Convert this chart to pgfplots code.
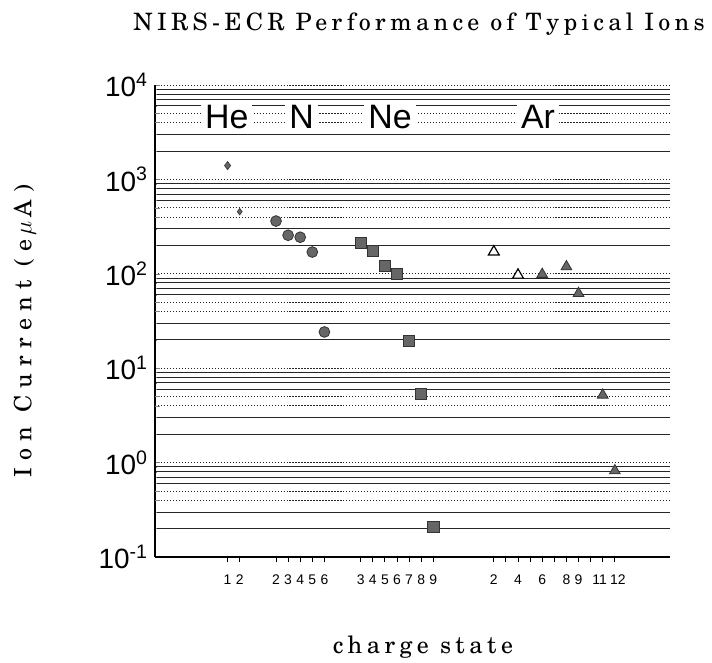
\documentclass[border=0pt]{standalone}
\usepackage{fontspec}
\setsansfont{Liberation Sans}
\newfontfamily\spacedA{TeX Gyre Schola}[LetterSpace=18]
\newfontfamily\spacedB{TeX Gyre Schola}[LetterSpace=30]
\newfontfamily\spacedC{TeX Gyre Schola}[LetterSpace=19]
\usepackage{pgfplots}
\pgfplotsset{compat=1.18}
\begin{document}
\begin{tikzpicture}
\useasboundingbox (-77.5bp,-53bp) rectangle (278.5bp,278.5bp);
\begin{axis}[
  at={(0,0)}, anchor=south west,
  scale only axis, width=257.5bp, height=236bp,
  ymode=log, ymin=0.1, ymax=10000,
  xmin=0, xmax=42.56,
  axis x line=bottom, axis y line=left,
  axis line style={-, line width=0.6pt, black},
  xtick={6,7,10,11,12,13,14,17,18,19,20,21,22,23,28,29,30,31,32,33,34,35,36,37,38},
  xticklabels={1,2,2,3,4,5,6,3,4,5,6,7,8,9,2,,4,,6,,8,9,,\kern-3bp 11,12\kern-3bp},
  xtick align=outside,
  x tick style={black, line width=0.5pt},
  major tick length=2.5bp, minor tick length=1bp,
  xticklabel style={font=\sffamily\fontsize{7}{7}\selectfont, yshift=-3bp},
  ytick={0.1,1,10,100,1000,10000},
  yticklabels={10\textsuperscript{-1},10\textsuperscript{0},10\textsuperscript{1},10\textsuperscript{2},10\textsuperscript{3},10\textsuperscript{4}},
  yticklabel style={font=\sffamily\fontsize{14}{14}\selectfont},
  minor ytick={0.2,0.3,0.6,0.7,0.8,0.9,2,3,6,7,8,9,20,30,60,70,80,90,200,300,600,700,800,900,2000,3000,6000,7000,8000,9000},
  ytick align=inside,
  ymajorgrids, yminorgrids,
  major grid style={black!85, line width=0.45pt, dash pattern=on 0.6pt off 0.9pt},
  minor grid style={black!85, line width=0.45pt},
  extra y ticks={0.4,0.5,4,5,40,50,400,500,4000,5000},
  extra y tick labels={},
  extra y tick style={grid=major},
  clip=false,
]
% He
\addplot[only marks, mark=diamond*, mark size=2bp, mark options={fill=black!60, draw=black!75}] coordinates {(6,1400)};
\addplot[only marks, mark=diamond*, mark size=1.6bp, mark options={fill=black!60, draw=black!75}] coordinates {(7,455)};
% N
\addplot[only marks, mark=*, mark size=2.7bp, mark options={fill=black!60, draw=black!80}] coordinates {(10,362)(11,256)(12,244)(13,170)(14,24.2)};
% Ne
\addplot[only marks, mark=square*, mark size=2.8bp, mark options={fill=black!60, draw=black!80}] coordinates {(17,214)(18,175)(19,121)(20,98.8)(21,19.4)(22,5.33)(23,0.209)};
% Ar open
\addplot[only marks, mark=triangle*, mark size=3.1bp, mark options={fill=white, draw=black, line width=0.6pt}] coordinates {(28,171)(30,97)};
% Ar filled
\addplot[only marks, mark=triangle*, mark size=3.1bp, mark options={fill=black!60, draw=black!80}] coordinates {(32,98.8)(34,119)(35,62)(37,5.2)(38,0.82)};
% element labels
\tikzset{elem/.style={fill=white, inner xsep=2bp, inner ysep=0.3bp, text height=12bp, text depth=0pt, font=\sffamily\fontsize{17}{17}\selectfont}}
\node[elem] at (axis cs:5.93,4617) {He};
\node[elem] at (axis cs:12.12,4617) {N};
\node[elem] at (axis cs:19.42,4617) {Ne};
\node[elem] at (axis cs:31.65,4617) {Ar};
\end{axis}
\node[anchor=base] at (132bp,263bp) {\spacedA\fontsize{12}{12}\selectfont NIRS-ECR Performance of Typical Ions};
\node[rotate=90] at (-65bp,113bp) {\spacedB\fontsize{12}{12}\selectfont Ion Current (e\,$\mu$\,A)};
\node[anchor=base] at (134bp,-48bp) {\spacedC\fontsize{12}{12}\selectfont charge state};
\end{tikzpicture}
\end{document}
